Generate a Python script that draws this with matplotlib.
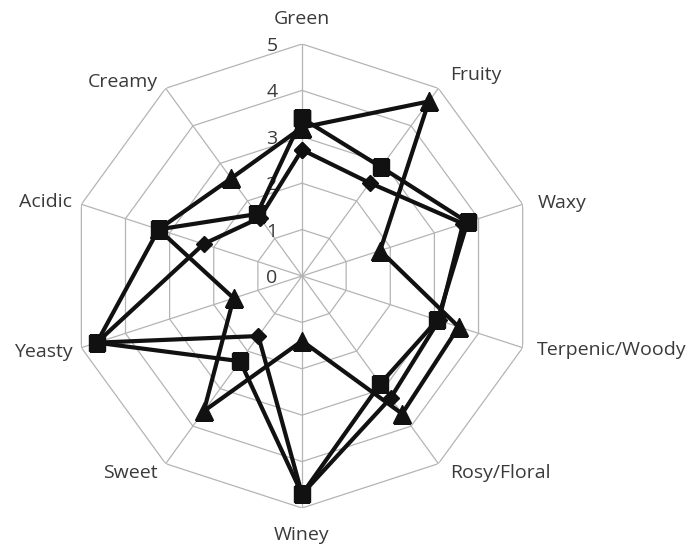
import numpy as np
import matplotlib
matplotlib.use("Agg")
import matplotlib.pyplot as plt

categories = ['Green', 'Fruity', 'Waxy', 'Terpenic/Woody', 'Rosy/Floral',
              'Winey', 'Sweet', 'Yeasty', 'Acidic', 'Creamy']
squares = [3.4, 2.9, 3.75, 3.07, 2.87, 4.7, 2.27, 4.65, 3.25, 1.65]
diamonds = [2.72, 2.48, 3.65, 3.1, 3.25, 4.7, 1.6, 4.65, 2.23, 1.55]
triangles = [3.2, 4.65, 1.77, 3.55, 3.67, 1.4, 3.6, 1.55, 3.25, 2.6]
levels = [0, 1, 2, 3, 4, 5]

n = len(categories)
theta = np.arange(n) * 2 * np.pi / n
theta_c = np.append(theta, theta[0])

fig = plt.figure(figsize=(7, 5.47), dpi=100)
ax = fig.add_axes([0.1, 0.0713, 0.6629, 0.8483], projection='polar')
ax.set_theta_zero_location('N')
ax.set_theta_direction(-1)
ax.set_ylim(0, 5)
ax.grid(False)
ax.spines['polar'].set_visible(False)
ax.set_xticks([])
ax.set_yticks([])

# decagon grid + spokes
grid_col = '#b4b4b4'
for lv in levels[1:]:
    ax.plot(theta_c, [lv] * (n + 1), color=grid_col, lw=0.9, zorder=1)
for t in theta:
    ax.plot([t, t], [0, 5], color=grid_col, lw=0.9, zorder=1)

txt_col = '#3a3a3a'
fnt = 'Open Sans'
for lv in levels:
    ax.annotate(str(lv), xy=(0, lv), xytext=(-30, -2), textcoords='offset pixels',
                ha='center', va='center', fontsize=14, color=txt_col,
                family=fnt, zorder=2)

# label offsets in pixels from the outer vertex
offs = [(0, 25, 'center'), (12, 13, 'left'), (15, 1, 'left'), (14, -2, 'left'),
        (12, -9, 'left'), (0, -27, 'center'), (-8, -9, 'right'), (-9, -4, 'right'),
        (-9, 2, 'right'), (-8, 6, 'right')]
for t, lab, (dx, dy, ha) in zip(theta, categories, offs):
    ax.annotate(lab, xy=(t, 5), xytext=(dx, dy), textcoords='offset pixels',
                ha=ha, va='center', fontsize=14, color=txt_col, family=fnt,
                annotation_clip=False)

lc = '#111111'
ax.plot(theta_c, triangles + triangles[:1], color=lc, lw=3, marker='^',
        markersize=13, zorder=3)
ax.plot(theta_c, diamonds + diamonds[:1], color=lc, lw=3, marker='D',
        markersize=8, zorder=4)
ax.plot(theta_c, squares + squares[:1], color=lc, lw=3, marker='s',
        markersize=12, zorder=5)

fig.savefig('out.png', dpi=100)
